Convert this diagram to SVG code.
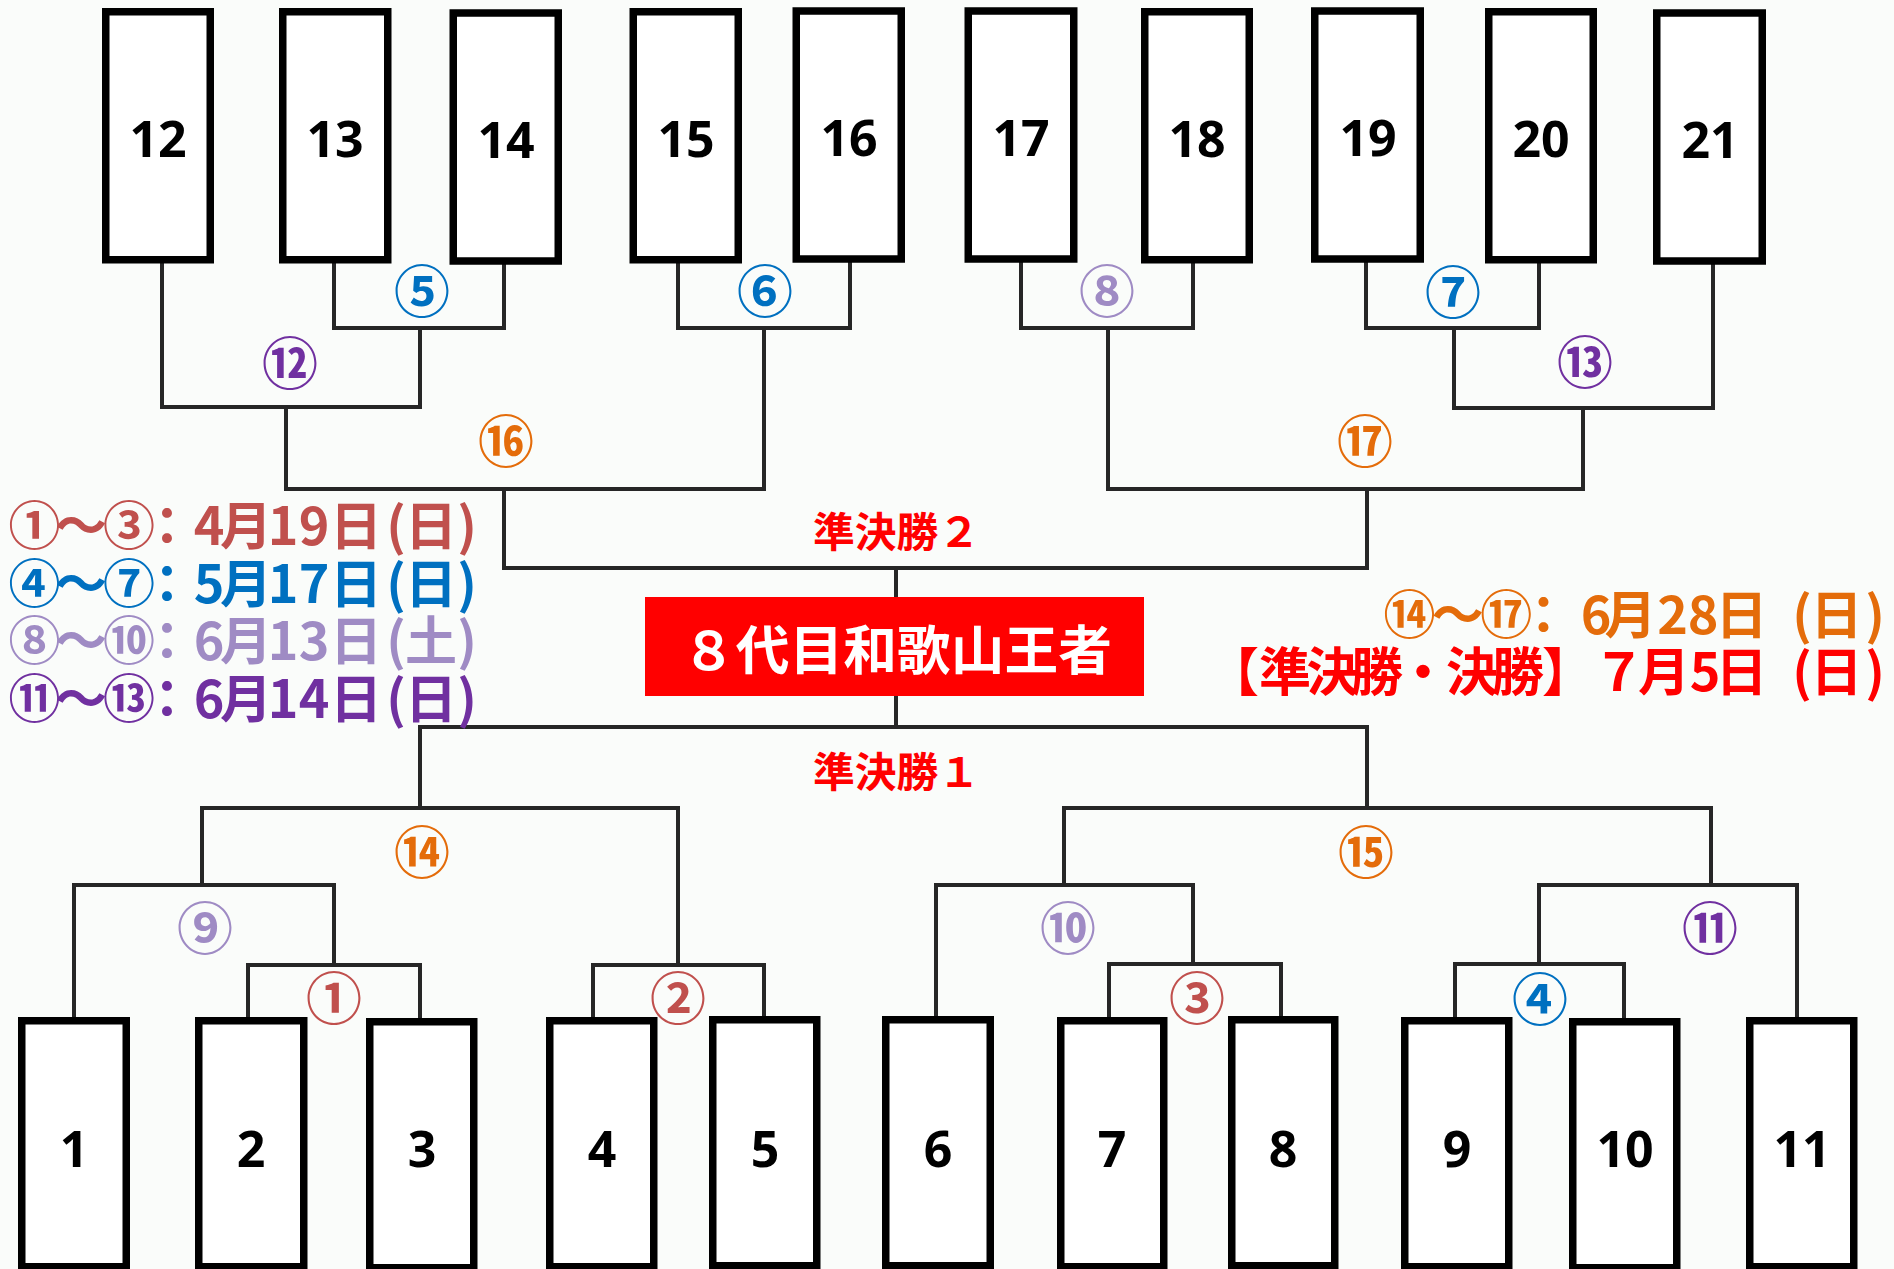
<svg xmlns="http://www.w3.org/2000/svg" width="1894" height="1269" viewBox="0 0 1894 1269">
<style>
.bg{fill:#FAFCFA}
.box{fill:#FFFFFF;stroke:#000000;stroke-width:7.5}
.num{font-family:"Noto Sans","Liberation Sans",sans-serif;font-weight:700;font-size:50px;fill:#000;text-anchor:middle}
.ln{fill:none;stroke:#262626;stroke-width:4;stroke-linejoin:miter;stroke-linecap:square}
.cn{font-family:"Noto Sans CJK JP",sans-serif;font-weight:700;font-size:56px;text-anchor:middle}
.jp{font-family:"Noto Sans CJK JP",sans-serif;font-weight:700}
.lg{font-family:"Noto Sans CJK JP",sans-serif;font-weight:700;font-size:52px;text-anchor:middle}
.c1{fill:#C0504D}.c2{fill:#0070C0}.c3{fill:#9F8BC4}.c4{fill:#7030A0}.c5{fill:#E46C0A}.rd{fill:#FF0000}
</style>
<rect class="bg" x="0" y="0" width="1894" height="1269"/>

<g id="connectors">
<path class="ln" d="M162,263 V407 H420 V328"/>
<path class="ln" d="M334,263 V328 H504 V264"/>
<path class="ln" d="M678,263 V328 H850 V263"/>
<path class="ln" d="M286,407 V489 H764 V328"/>
<path class="ln" d="M504,489 V568 H1367 V489"/>
<path class="ln" d="M1021,263 V328 H1193 V263"/>
<path class="ln" d="M1366,263 V328 H1539 V263"/>
<path class="ln" d="M1454,328 V408 H1713 V265"/>
<path class="ln" d="M1108,328 V489 H1583 V408"/>
<path class="ln" d="M896,568 V597"/>
<path class="ln" d="M896,696 V727"/>
<path class="ln" d="M420,808 V727 H1367 V808"/>
<path class="ln" d="M202,885 V808 H678 V965"/>
<path class="ln" d="M74,1017 V885 H334 V965"/>
<path class="ln" d="M248,1017 V965 H420 V1017"/>
<path class="ln" d="M593,1017 V965 H764 V1016"/>
<path class="ln" d="M936,1016 V885 H1193 V964"/>
<path class="ln" d="M1109,1017 V964 H1281 V1016"/>
<path class="ln" d="M1064,885 V808 H1711 V885"/>
<path class="ln" d="M1455,1017 V964 H1624 V1018"/>
<path class="ln" d="M1539,964 V885 H1797 V1017"/>
</g>

<g id="n12"><rect class="box" x="105.75" y="11.75" width="104.5" height="248"/><text class="num" x="158" y="157">12</text></g>
<g id="n13"><rect class="box" x="282.75" y="11.75" width="105" height="248"/><text class="num" x="335" y="157">13</text></g>
<g id="n14"><rect class="box" x="453.25" y="13" width="105" height="248"/><text class="num" x="506" y="158">14</text></g>
<g id="n15"><rect class="box" x="633.25" y="11.75" width="105" height="248"/><text class="num" x="686" y="157">15</text></g>
<g id="n16"><rect class="box" x="796.25" y="11" width="105" height="248"/><text class="num" x="849" y="156">16</text></g>
<g id="n17"><rect class="box" x="968.25" y="11" width="105.5" height="248"/><text class="num" x="1021" y="156">17</text></g>
<g id="n18"><rect class="box" x="1144.75" y="11.75" width="104.5" height="248"/><text class="num" x="1197" y="157">18</text></g>
<g id="n19"><rect class="box" x="1314.75" y="11" width="105.5" height="248"/><text class="num" x="1368" y="156">19</text></g>
<g id="n20"><rect class="box" x="1488.75" y="11.75" width="104.5" height="248"/><text class="num" x="1541" y="157">20</text></g>
<g id="n21"><rect class="box" x="1656.75" y="13" width="105.5" height="248"/><text class="num" x="1710" y="158">21</text></g>

<g id="n1"><rect class="box" x="21.75" y="1020.75" width="104.5" height="246"/><text class="num" x="74" y="1167">1</text></g>
<g id="n2"><rect class="box" x="198.75" y="1020.75" width="105" height="246"/><text class="num" x="251" y="1167">2</text></g>
<g id="n3"><rect class="box" x="369.75" y="1021.75" width="104" height="246"/><text class="num" x="422" y="1167">3</text></g>
<g id="n4"><rect class="box" x="549.75" y="1020.75" width="104" height="246"/><text class="num" x="602" y="1167">4</text></g>
<g id="n5"><rect class="box" x="712.75" y="1019.75" width="104" height="246"/><text class="num" x="765" y="1167">5</text></g>
<g id="n6"><rect class="box" x="885.75" y="1019.75" width="104.5" height="246"/><text class="num" x="938" y="1167">6</text></g>
<g id="n7"><rect class="box" x="1060.75" y="1020.75" width="103" height="246"/><text class="num" x="1112" y="1167">7</text></g>
<g id="n8"><rect class="box" x="1231.75" y="1019.75" width="103" height="246"/><text class="num" x="1283" y="1167">8</text></g>
<g id="n9"><rect class="box" x="1404.75" y="1020.75" width="104" height="246"/><text class="num" x="1457" y="1167">9</text></g>
<g id="n10"><rect class="box" x="1572.75" y="1021.75" width="104" height="246"/><text class="num" x="1625" y="1167">10</text></g>
<g id="n11"><rect class="box" x="1749.75" y="1020.75" width="104" height="246"/><text class="num" x="1802" y="1167">11</text></g>

<g id="labels">
<text class="cn c2" x="422" y="312">⑤</text>
<text class="cn c2" x="765" y="312">⑥</text>
<text class="cn c3" x="1107" y="312">⑧</text>
<text class="cn c2" x="1453" y="313">⑦</text>
<text class="cn c4" x="290" y="384">⑫</text>
<text class="cn c4" x="1585" y="383">⑬</text>
<text class="cn c5" x="506" y="462">⑯</text>
<text class="cn c5" x="1365" y="462">⑰</text>
<text class="cn c5" x="422" y="873">⑭</text>
<text class="cn c5" x="1366" y="873">⑮</text>
<text class="cn c3" x="205" y="949">⑨</text>
<text class="cn c3" x="1068" y="949">⑩</text>
<text class="cn c4" x="1710" y="949">⑪</text>
<text class="cn c1" x="334" y="1019">①</text>
<text class="cn c1" x="678" y="1019">②</text>
<text class="cn c1" x="1197" y="1019">③</text>
<text class="cn c2" x="1540" y="1020">④</text>
</g>

<g id="final">
<text class="jp rd" x="813" y="547" font-size="41" textLength="167" lengthAdjust="spacingAndGlyphs">準決勝２</text>
<rect x="645" y="597" width="499" height="99" fill="#FF0000"/>
<text class="jp" x="682" y="670" font-size="53" fill="#FFFFFF" textLength="430" lengthAdjust="spacingAndGlyphs">８代目和歌山王者</text>
<text class="jp rd" x="813" y="787" font-size="41" textLength="167" lengthAdjust="spacingAndGlyphs">準決勝１</text>
</g>

<g id="legend">
<text class="lg c1" y="545" x="34.5 81 129 167 209 246 283 314 356 396 431 467">①～③：4月19日(日)</text>
<text class="lg c2" y="602.5" x="34.5 81 129 167 209 246 283 314 356 396 431 467">④～⑦：5月17日(日)</text>
<text class="lg c3" y="660" x="34.5 81 129 167 209 246 283 314 356 396 431 467">⑧～⑩：6月13日(土)</text>
<text class="lg c4" y="717.5" x="34.5 81 129 167 209 246 283 314 356 396 431 467">⑪～⑬：6月14日(日)</text>
<text class="lg c5" y="634" font-size="51" x="1409.6 1457.8 1506.3 1543.6 1596 1630.5 1672.5 1703 1741.5 1802 1836.5 1875">⑭～⑰：6月28日(日)</text>
<text class="lg rd" y="691" font-size="49" x="1233 1285 1332.6 1377 1423 1472 1518 1568 1619 1664 1705 1741.5 1802 1836.5 1875">【準決勝・決勝】７月5日(日)</text>
</g>
</svg>
